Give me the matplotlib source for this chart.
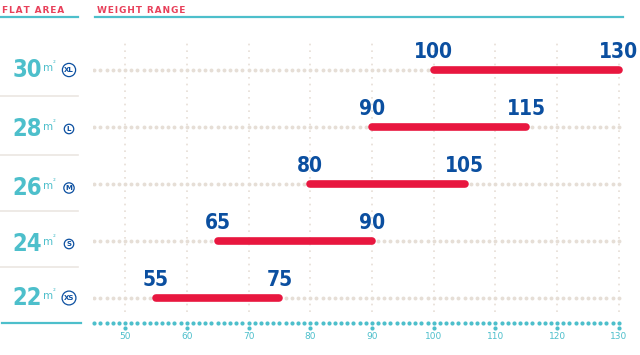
import matplotlib.pyplot as plt
import matplotlib.transforms as mtrans

areas = ["22", "24", "26", "28", "30"]
sizes = ["XS", "S", "M", "L", "XL"]
low = [55, 65, 80, 90, 100]
high = [75, 90, 105, 115, 130]
ticks = [50, 60, 70, 80, 90, 100, 110, 120, 130]

teal = "#4dbfcb"
blue = "#0b4fa0"
red = "#e8173f"
pink = "#e8405a"
beige = "#e6ded6"

W, H = 640, 355
fig = plt.figure(figsize=(6.4, 3.55), dpi=100)

def fx(px):
    return px / W

def fy(py):
    return 1 - py / H

def spaced(s):
    return "\u200a".join(s)

# main plot area
ax = fig.add_axes([fx(93), fy(323), fx(625) - fx(93), fy(40) - fy(323)])
ax.set_xlim(44.8, 131.0)
ax.set_ylim(-0.44, 4.53)
ax.axis("off")

# vertical dotted grid
for t in ticks:
    ax.plot([t, t], [-0.25, 4.53], color=beige, lw=1.2, ls=(0, (1, 3)), zorder=1)

# row dotted lines
xs = list(range(45, 131))
for i in range(len(areas)):
    ax.plot(xs, [i] * len(xs), ls="none", marker="o", ms=2.8, color=beige,
            mec="none", zorder=2)

# bars + value labels
for i in range(len(areas)):
    ax.plot([low[i], high[i]], [i, i], color=red, lw=5.5, solid_capstyle="round",
            zorder=3)
    for v in (low[i], high[i]):
        ax.annotate(str(v), (v, i), xytext=(0, 6), textcoords="offset points",
                    ha="center", va="bottom", fontsize=15, fontweight="bold",
                    fontstretch="condensed", color=blue, zorder=4)

# bottom dotted axis with tick dots and labels
ax.plot(xs, [-0.44] * len(xs), ls="none", marker="o", ms=3, color=teal,
        mec="none", clip_on=False)
off = mtrans.offset_copy(ax.transData, fig=fig, x=0, y=-5, units="dots")
ax.plot(ticks, [-0.44] * len(ticks), ls="none", marker="o", ms=3, color=teal,
        mec="none", clip_on=False, transform=off)
for t in ticks:
    ax.annotate(str(t), (t, -0.44), xytext=(0, -6.5), textcoords="offset points",
                ha="center", va="top", fontsize=6.5, color=teal)

# headers
fig.text(fx(2), fy(13), spaced("FLAT AREA"), color=pink, fontsize=6.5,
         ha="left", va="baseline", fontweight="bold")
fig.text(fx(97), fy(13), spaced("WEIGHT RANGE"), color=pink, fontsize=6.5,
         ha="left", va="baseline", fontweight="bold")
fig.add_artist(plt.Line2D([0, fx(78)], [fy(17), fy(17)], color=teal, lw=1.6))
fig.add_artist(plt.Line2D([fx(95), fx(623)], [fy(17), fy(17)], color=teal, lw=1.6))
fig.add_artist(plt.Line2D([fx(2), fx(81)], [fy(323), fy(323)], color=teal, lw=1.6))

# left panel
rows_px = [298, 244, 188, 129, 70]
for py in [96, 155, 211, 267]:
    fig.add_artist(plt.Line2D([0, fx(78)], [fy(py), fy(py)], color="#ebe6e2",
                              lw=1.2))
for i in range(len(areas)):
    py = rows_px[i]
    fig.text(fx(42), fy(py), areas[i], color=teal, fontsize=17, fontweight="bold",
             fontstretch="condensed", ha="right", va="center")
    fig.text(fx(43.5), fy(py - 2), "m", color=teal, fontsize=7.5, ha="left",
             va="center")
    fig.text(fx(52.5), fy(py - 6), "²", color=teal, fontsize=5, ha="left",
             va="center")
    fig.text(fx(69), fy(py), sizes[i], color=blue, fontsize=5, ha="center",
             va="center", fontweight="bold",
             bbox=dict(boxstyle="circle,pad=0.25", fc="white", ec=blue, lw=0.9))

fig.savefig("out.png", dpi=100, facecolor="white")
